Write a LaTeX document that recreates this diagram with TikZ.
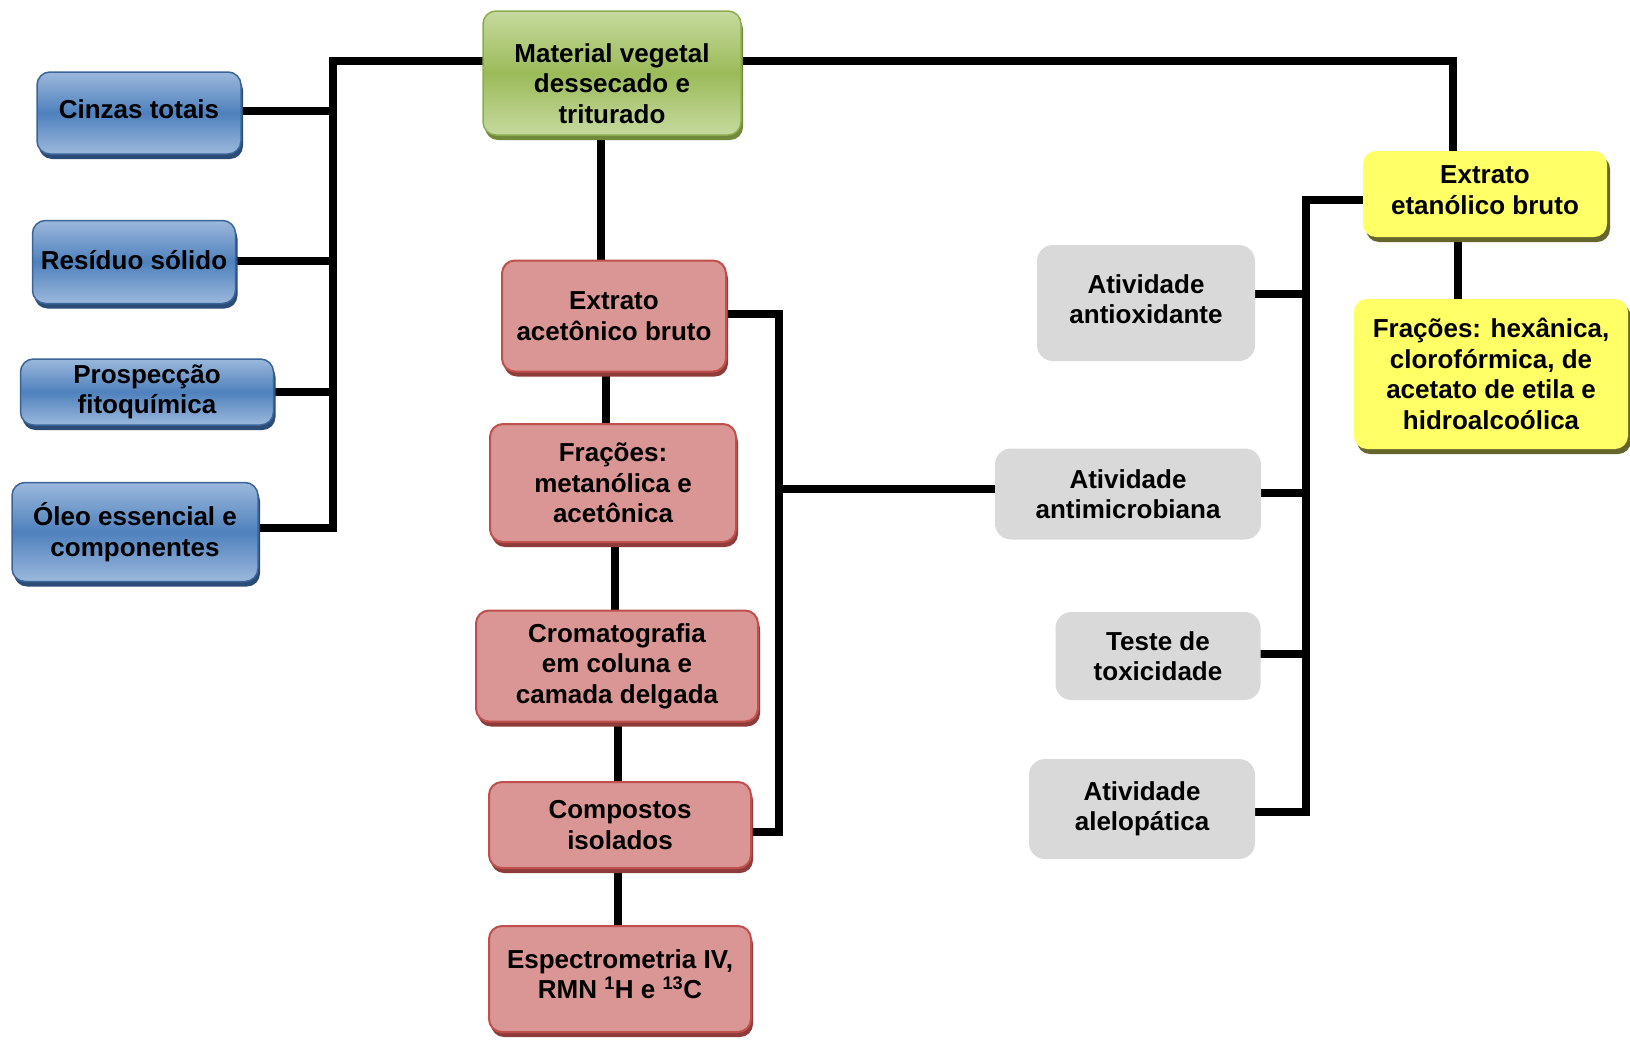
\documentclass[tikz,border=0pt]{standalone}
\usepackage{fontspec}
\setmainfont{Liberation Sans}
\usetikzlibrary{shadows}
\definecolor{bluL}{HTML}{9BB8DC}
\definecolor{bluM}{HTML}{4F81BD}
\definecolor{bluB}{HTML}{3A6496}
\definecolor{bluS}{HTML}{2C4C78}
\definecolor{grnL}{HTML}{C6DA9E}
\definecolor{grnM}{HTML}{9BBB59}
\definecolor{grnB}{HTML}{8CAB50}
\definecolor{grnS}{HTML}{71893A}
\definecolor{redF}{HTML}{D99694}
\definecolor{redB}{HTML}{C0504D}
\definecolor{redS}{HTML}{8E3B39}
\definecolor{yelF}{HTML}{FFFF66}
\definecolor{yelS}{HTML}{66662C}
\definecolor{gryF}{HTML}{D9D9D9}
\newcommand{\dn}[1]{\rule[-#1]{0pt}{0pt}}
\tikzset{
  box/.style={rounded corners=13pt, align=center, inner sep=0pt,
    font=\fontsize{26}{30.5}\selectfont\bfseries},
  bluebox/.style={box, top color=bluL, bottom color=bluL, middle color=bluM,
    draw=bluB, line width=1.5pt,
    drop shadow={shadow xshift=2pt, shadow yshift=-5pt, fill=bluS, opacity=1}},
  greenbox/.style={box, top color=grnL, bottom color=grnL, middle color=grnM,
    draw=grnB, line width=1.5pt,
    drop shadow={shadow xshift=2pt, shadow yshift=-5pt, fill=grnS, opacity=1}},
  redbox/.style={box, fill=redF, draw=redB, line width=2pt,
    drop shadow={shadow xshift=2pt, shadow yshift=-5pt, fill=redS, opacity=1}},
  yelbox/.style={box, fill=yelF,
    drop shadow={shadow xshift=3pt, shadow yshift=-5pt, fill=yelS, opacity=1}},
  grybox/.style={box, fill=gryF, rounded corners=16pt},
  conn/.style={line width=8.5pt, line cap=rect, line join=miter},
}
\begin{document}
\begin{tikzpicture}[x=1pt, y=-1pt]
\useasboundingbox (0,0) rectangle (1630,1039);
% connector coordinates
\coordinate (lt) at (333,61);
\coordinate (lb) at (333,528);
\coordinate (rt) at (1453,61);
\coordinate (rb) at (1306,200);
\coordinate (rbb) at (1306,812);
\coordinate (bt) at (779,314);
\coordinate (bb) at (779,832);
\coordinate (bm) at (779,489);
% connectors (drawn first, behind boxes)
\draw[conn] (481,61) -- (lt) -- (lb) -- (258,528);
\draw[conn] (241,111) -- (333,111);
\draw[conn] (235,261) -- (333,261);
\draw[conn] (273,392) -- (333,392);
\draw[conn] (743,61) -- (rt) -- (1453,151);
\draw[conn] (1458,237) -- (1458,299);
\draw[conn] (1363,200) -- (rb) -- (rbb) -- (1255,812);
\draw[conn] (1255,294) -- (1306,294);
\draw[conn] (1261,493) -- (1306,493);
\draw[conn] (1261,654) -- (1306,654);
\draw[conn] (726,314) -- (bt) -- (bb) -- (751,832);
\draw[conn] (bm) -- (995,489);
\draw[conn] (601,135) -- (601,260);
\draw[conn] (606,371) -- (606,424);
\draw[conn] (615,542) -- (615,610);
\draw[conn] (618,721) -- (618,782);
\draw[conn] (618,868) -- (618,928);
% nodes
\node[greenbox, minimum width=258pt, minimum height=124pt] (mat) at (612,73) {\rule{0pt}{40pt}Material vegetal\\dessecado e\\triturado};
\node[bluebox, minimum width=204pt, minimum height=82pt] (cinzas) at (139,113) {Cinzas totais\dn{8pt}};
\node[bluebox, minimum width=203pt, minimum height=83pt] (residuo) at (134,262) {Resíduo sólido\dn{4pt}};
\node[bluebox, minimum width=253pt, minimum height=66pt] (prosp) at (147,392) {Prospecção\\fitoquímica};
\node[bluebox, minimum width=246pt, minimum height=99pt] (oleo) at (135,532) {Óleo essencial e\\componentes};
\node[redbox, minimum width=224pt, minimum height=111pt] (extA) at (614,316) {Extrato\\acetônico bruto};
\node[redbox, minimum width=246pt, minimum height=118pt] (fracM) at (613,483) {Frações:\\metanólica e\\acetônica};
\node[redbox, minimum width=282pt, minimum height=111pt] (crom) at (617,666) {Cromatografia\\em coluna e\\camada delgada};
\node[redbox, minimum width=262pt, minimum height=86pt] (comp) at (620,825) {Compostos\\isolados};
\node[redbox, minimum width=262pt, minimum height=106pt] (espec) at (620,979) {Espectrometria IV,\\RMN \textsuperscript{1}H e \textsuperscript{13}C\dn{10pt}};
\node[yelbox, minimum width=244pt, minimum height=86pt] (extE) at (1485,194) {Extrato\\etanólico bruto\dn{8pt}};
\node[yelbox, minimum width=274pt, minimum height=150pt] (fracH) at (1491,374) {Frações: hexânica,\\clorofórmica, de\\acetato de etila e\\hidroalcoólica};
\node[grybox, minimum width=218pt, minimum height=116pt] (antiox) at (1146,303) {Atividade\\antioxidante\dn{8pt}};
\node[grybox, minimum width=266pt, minimum height=91pt] (antimic) at (1128,494) {Atividade\\antimicrobiana};
\node[grybox, minimum width=205pt, minimum height=88pt] (tox) at (1158,656) {Teste de\\toxicidade};
\node[grybox, minimum width=226pt, minimum height=100pt] (alel) at (1142,809) {Atividade\\alelopática};
\end{tikzpicture}
\end{document}
